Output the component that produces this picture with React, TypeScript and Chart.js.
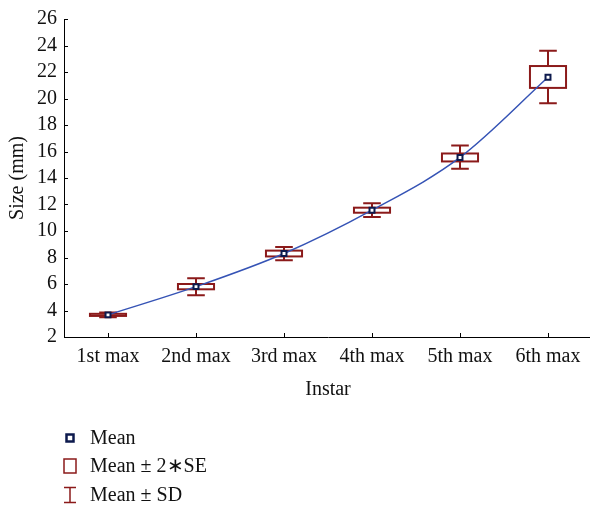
import React, { useEffect, useRef } from "react";
import { Chart, registerables } from "chart.js";

Chart.register(...registerables);

const categories = ["1st max", "2nd max", "3rd max", "4th max", "5th max", "6th max"];
const means = [3.67, 5.8, 8.3, 11.57, 15.55, 21.6];
const seLow = [3.59, 5.6, 8.08, 11.38, 15.25, 20.8];
const seHigh = [3.75, 6.0, 8.52, 11.76, 15.85, 22.45];
const sdLow = [3.5, 5.16, 7.8, 11.05, 14.7, 19.65];
const sdHigh = [3.84, 6.44, 8.8, 12.09, 16.45, 23.6];
const yTicks = [2, 4, 6, 8, 10, 12, 14, 16, 18, 20, 22, 24, 26];
const legendLabels = ["Mean", "Mean \u00B1 2\u2217SE", "Mean \u00B1 SD"];

const FONT = "'Liberation Serif', 'Times New Roman', serif";
const RED = "#8b1a1a";
const NAVY = "#0d1a4d";
const BLUE = "#3553b5";

const boxPlugin = {
  id: "boxes",
  beforeDatasetsDraw(chart: any) {
    const { ctx, scales } = chart;
    const x = scales.x;
    const y = scales.y;
    const catW = x.getPixelForValue(1) - x.getPixelForValue(0);
    const bh = catW * 0.205;
    const ch = catW * 0.1;
    ctx.save();
    ctx.strokeStyle = RED;
    ctx.lineWidth = 2;
    for (let i = 0; i < categories.length; i++) {
      const cx = x.getPixelForValue(i);
      const yt = y.getPixelForValue(seHigh[i]);
      const yb = y.getPixelForValue(seLow[i]);
      const st = y.getPixelForValue(sdHigh[i]);
      const sb = y.getPixelForValue(sdLow[i]);
      ctx.strokeRect(cx - bh, yt, bh * 2, yb - yt);
      ctx.beginPath();
      ctx.moveTo(cx, yt);
      ctx.lineTo(cx, st);
      ctx.moveTo(cx - ch, st);
      ctx.lineTo(cx + ch, st);
      ctx.moveTo(cx, yb);
      ctx.lineTo(cx, sb);
      ctx.moveTo(cx - ch, sb);
      ctx.lineTo(cx + ch, sb);
      ctx.stroke();
    }
    ctx.restore();
  },
  afterDraw(chart: any) {
    const { ctx, scales, chartArea } = chart;
    const x = scales.x;
    const y = scales.y;
    ctx.save();
    ctx.strokeStyle = "#000";
    ctx.lineWidth = 1;
    ctx.beginPath();
    for (const v of yTicks) {
      const py = Math.round(y.getPixelForValue(v)) + 0.5;
      ctx.moveTo(chartArea.left, py);
      ctx.lineTo(chartArea.left + 4, py);
    }
    for (let i = 0; i < categories.length; i++) {
      const px = Math.round(x.getPixelForValue(i)) + 0.5;
      ctx.moveTo(px, chartArea.bottom);
      ctx.lineTo(px, chartArea.bottom - 4);
    }
    ctx.stroke();

    // legend
    const lx = 70;
    const tx = 90;
    const rows = [438, 466, 495];
    ctx.font = `20px ${FONT}`;
    ctx.fillStyle = "#111";
    ctx.textBaseline = "middle";
    ctx.textAlign = "left";
    rows.forEach((ry, k) => ctx.fillText(legendLabels[k], tx, ry + 1));
    // mean marker
    ctx.fillStyle = "#fff";
    ctx.strokeStyle = NAVY;
    ctx.lineWidth = 2.5;
    ctx.fillRect(lx - 3.5, rows[0] - 3.5, 7, 7);
    ctx.strokeRect(lx - 3.5, rows[0] - 3.5, 7, 7);
    // box
    ctx.strokeStyle = RED;
    ctx.lineWidth = 1.5;
    ctx.strokeRect(lx - 6, rows[1] - 7, 12, 14);
    // whisker
    ctx.beginPath();
    ctx.moveTo(lx - 6, rows[2] - 7.5);
    ctx.lineTo(lx + 6, rows[2] - 7.5);
    ctx.moveTo(lx, rows[2] - 7.5);
    ctx.lineTo(lx, rows[2] + 7.5);
    ctx.moveTo(lx - 6, rows[2] + 7.5);
    ctx.lineTo(lx + 6, rows[2] + 7.5);
    ctx.stroke();
    ctx.restore();
  },
};

export default function App() {
  const ref = useRef<HTMLCanvasElement>(null);
  useEffect(() => {
    if (!ref.current) return;
    const chart = new Chart(ref.current, {
      type: "line",
      data: {
        labels: categories,
        datasets: [
          {
            label: "Mean",
            data: means,
            borderColor: BLUE,
            borderWidth: 1.5,
            tension: 0.4,
            cubicInterpolationMode: "monotone",
            pointStyle: "rect",
            pointRadius: 3.5,
            pointBackgroundColor: "#fff",
            pointBorderColor: NAVY,
            pointBorderWidth: 2,
            fill: false,
          },
        ],
      },
      options: {
        animation: false,
        responsive: false,
        layout: { padding: { top: 17, right: 0, bottom: 106, left: 0 } },
        plugins: { legend: { display: false }, tooltip: { enabled: false } },
        scales: {
          x: {
            type: "category",
            offset: true,
            grid: { display: false, drawTicks: false },
            border: { display: true, color: "#000", width: 1 },
            ticks: { color: "#111", font: { family: FONT, size: 20 }, padding: 8, maxRotation: 0, autoSkip: false },
            title: {
              display: true,
              text: "Instar",
              color: "#111",
              font: { family: FONT, size: 20 },
              padding: { top: 8, bottom: 0 },
            },
            afterFit: (s: any) => {
              s.height = 65;
            },
          },
          y: {
            min: 2,
            max: 26,
            afterBuildTicks: (s: any) => {
              s.ticks = yTicks.map((v) => ({ value: v }));
            },
            grid: { display: false, drawTicks: false },
            border: { display: true, color: "#000", width: 1 },
            ticks: {
              stepSize: 2,
              autoSkip: false,
              color: "#111",
              font: { family: FONT, size: 20 },
              padding: 7,
            },
            title: {
              display: true,
              text: "Size (mm)",
              color: "#111",
              font: { family: FONT, size: 20 },
              padding: { top: 6, bottom: 0 },
            },
            afterFit: (s: any) => {
              s.width = 64;
            },
          },
        },
      },
      plugins: [boxPlugin],
    });
    return () => chart.destroy();
  }, []);
  return (
    <div style={{ position: "absolute", left: 0, top: 0, width: 590, height: 508, overflow: "hidden", background: "#fff" }}>
      <canvas ref={ref} width={598} height={508} />
    </div>
  );
}
